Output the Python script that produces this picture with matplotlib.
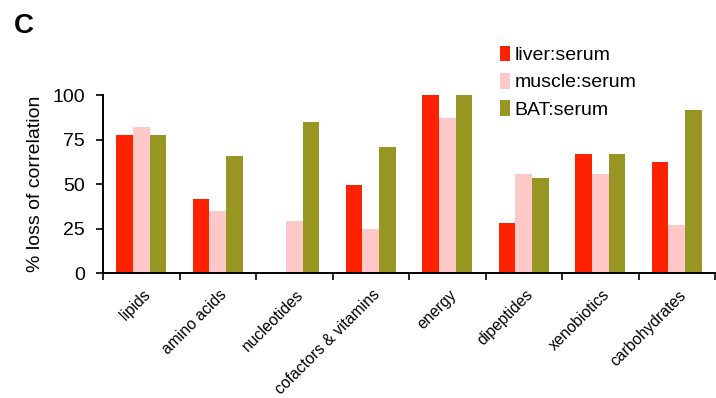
import numpy as np
import matplotlib.pyplot as plt
from matplotlib.transforms import ScaledTranslation

plt.rcParams['font.family'] = ['Liberation Sans', 'DejaVu Sans']

# % loss of correlation per metabolite class
categories = ['lipids', 'amino acids', 'nucleotides', 'cofactors & vitamins',
              'energy', 'dipeptides', 'xenobiotics', 'carbohydrates']
liver = [77.6, 41.5, 0, 49.5, 100, 28.0, 66.7, 62.4]
muscle = [81.9, 34.9, 29.3, 24.7, 87.3, 55.5, 55.5, 27.1]
bat = [77.6, 65.8, 84.9, 71.0, 100, 53.4, 66.7, 91.6]

series = [('liver:serum', liver, '#ff2200'),
          ('muscle:serum', muscle, '#ffc8c8'),
          ('BAT:serum', bat, '#979623')]

fig = plt.figure(figsize=(7.16, 3.98), dpi=100)
ax = fig.add_axes([0.1439, 0.3133, 0.8547, 0.448])

x = np.arange(len(categories))
w = 0.217
for i, (name, vals, col) in enumerate(series):
    ax.bar(x + (i - 1) * w, vals, w, color=col, edgecolor='none', label=name,
           clip_on=False)

ax.set_xlim(-0.5, len(categories) - 0.5)
ax.set_ylim(0, 100)
ax.set_yticks([0, 25, 50, 75, 100])
ax.tick_params(axis='y', labelsize=14, length=5, width=1.2, pad=8)

# boundary ticks between groups, labels at group centres
ax.set_xticks(np.arange(len(categories) + 1) - 0.5)
ax.set_xticklabels([])
ax.tick_params(axis='x', which='major', length=5, width=1.2)
ax.set_xticks(x, minor=True)
ax.set_xticklabels(categories, minor=True, rotation=45, ha='right',
                   rotation_mode='anchor', fontsize=11.3)
ax.tick_params(axis='x', which='minor', length=0, pad=10)
shift = ScaledTranslation(1.5 / 100, 0, fig.dpi_scale_trans)
for lbl in ax.get_xticklabels(minor=True):
    lbl.set_transform(lbl.get_transform() + shift)

for s in ['top', 'right']:
    ax.spines[s].set_visible(False)
for s in ['left', 'bottom']:
    ax.spines[s].set_linewidth(1.4)

ax.set_ylabel('% loss of correlation', fontsize=14, labelpad=6)

fig.text(0.02, 0.935, 'C', fontsize=20, fontweight='bold', va='center')

leg = ax.legend(loc='upper left', bbox_to_anchor=(0.698, 0.885), bbox_transform=fig.transFigure,
                frameon=False, fontsize=14, handlelength=0.55, handleheight=0.85,
                handletextpad=0.2, labelspacing=0.45, borderaxespad=0, borderpad=0)

plt.savefig('out.png', dpi=100)
